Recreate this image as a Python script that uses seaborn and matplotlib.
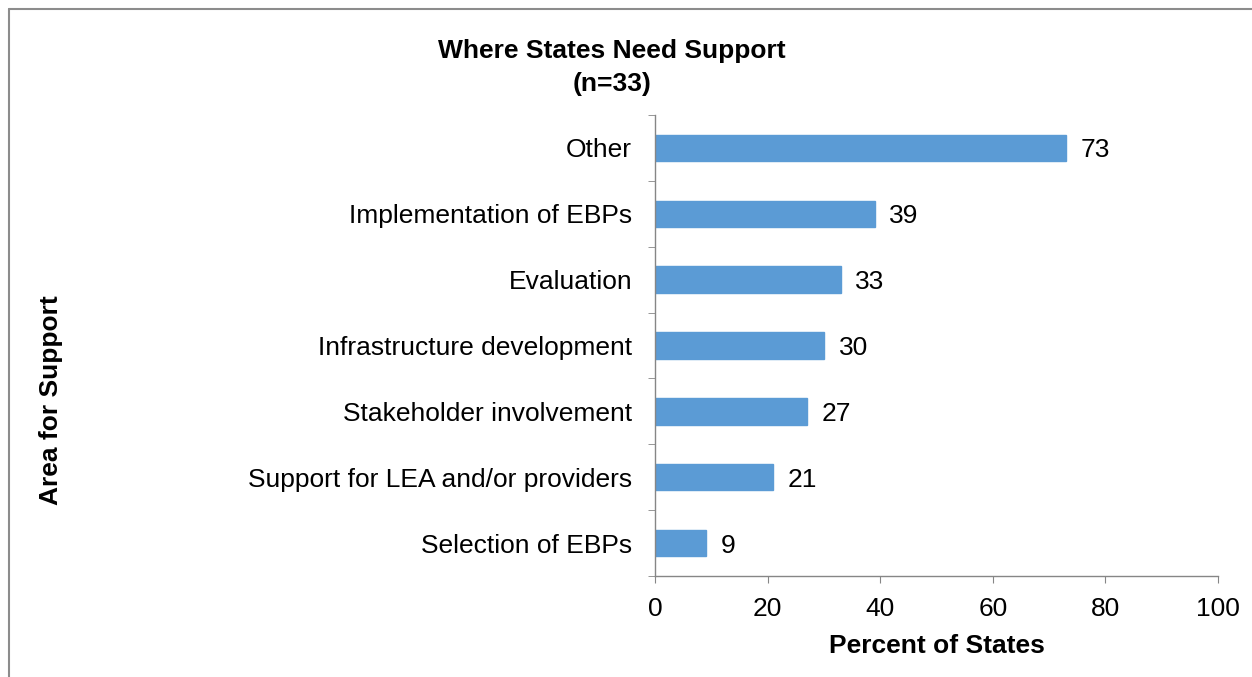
import pandas as pd
import matplotlib.pyplot as plt
import seaborn as sns

# data
areas = ['Other', 'Implementation of EBPs', 'Evaluation', 'Infrastructure development',
         'Stakeholder involvement', 'Support for LEA and/or providers', 'Selection of EBPs']
percent = [73, 39, 33, 30, 27, 21, 9]

df = pd.DataFrame({'area': areas, 'percent': percent})

sns.set_style('white')
plt.rcParams['font.family'] = ['Liberation Sans', 'DejaVu Sans']
plt.rcParams['text.color'] = 'black'
plt.rcParams['xtick.color'] = 'black'
plt.rcParams['ytick.color'] = 'black'

fs = 19

fig = plt.figure(figsize=(12.52, 6.77), dpi=100)
ax = fig.add_axes([0.5232, 0.1492, 0.4497, 0.681])

sns.barplot(data=df, x='percent', y='area', color='#5B9BD5', width=0.4,
            saturation=1, ax=ax, edgecolor='#5B9BD5')

ax.set_xlim(0, 100)
ax.set_xticks([0, 20, 40, 60, 80, 100])
ax.set_ylim(len(areas) - 0.5, -0.5)
ax.set_yticks(range(len(areas)))
ax.set_yticklabels(areas)
ax.set_xlabel('')
ax.set_ylabel('')

for sp in ['top', 'right']:
    ax.spines[sp].set_visible(False)
for sp in ['left', 'bottom']:
    ax.spines[sp].set_color('#868686')
    ax.spines[sp].set_linewidth(1.0)

# y ticks sit between categories
ax.set_yticks([i - 0.5 for i in range(len(areas) + 1)], minor=True)
ax.tick_params(axis='y', which='major', length=0, pad=16.5, labelsize=fs)
ax.tick_params(axis='y', which='minor', length=5, color='#868686', direction='out', left=True)
ax.tick_params(axis='x', length=5, color='#868686', direction='out', bottom=True,
               labelsize=fs, pad=10)

for i, v in enumerate(percent):
    ax.text(v + 2.6, i, str(v), va='center_baseline', ha='left', fontsize=fs)

fig.text(612 / 1252, 1 - 51 / 677, 'Where States Need Support', ha='center', va='center',
         fontsize=fs, fontweight='bold')
fig.text(612 / 1252, 1 - 84 / 677, '(n=33)', ha='center', va='center',
         fontsize=fs, fontweight='bold')
fig.text(937 / 1252, 1 - 646 / 677, 'Percent of States', ha='center', va='center',
         fontsize=fs, fontweight='bold')
fig.text(51 / 1252, 1 - 400 / 677, 'Area for Support', ha='center', va='center',
         rotation=90, fontsize=fs, fontweight='bold')

# partial frame around the chart (top and left edges)
fig.add_artist(plt.Line2D([9 / 1252, 1.0], [1 - 9 / 677, 1 - 9 / 677],
                          color='#8c8c8c', lw=1.5, transform=fig.transFigure))
fig.add_artist(plt.Line2D([9 / 1252, 9 / 1252], [0.0, 1 - 9 / 677],
                          color='#8c8c8c', lw=1.5, transform=fig.transFigure))

fig.savefig('out.png', dpi=100)
